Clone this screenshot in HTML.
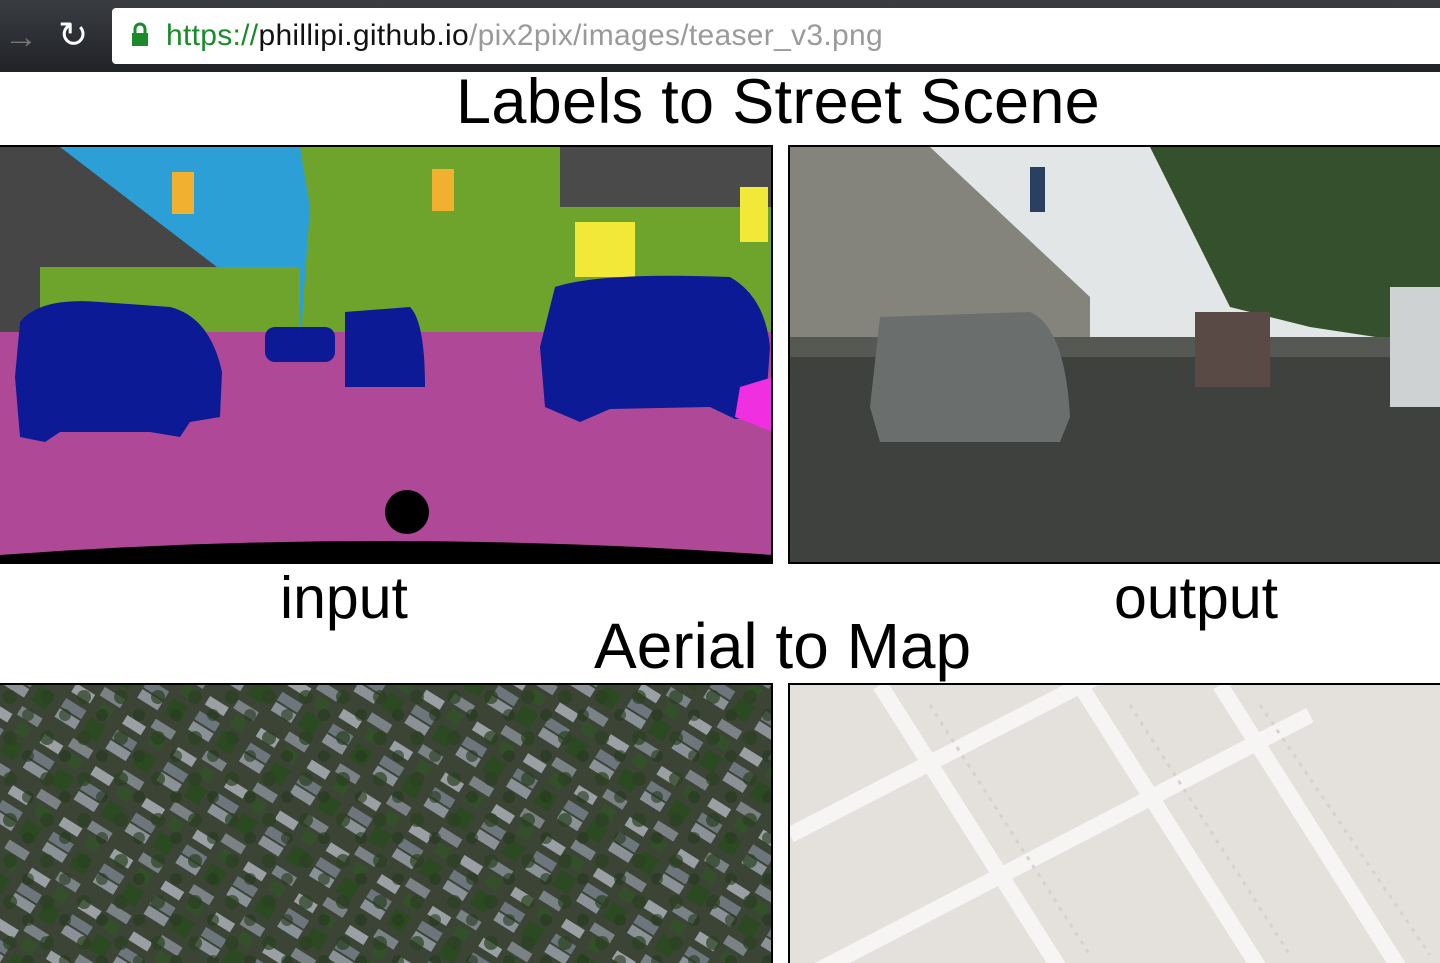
<!DOCTYPE html>
<html><head><meta charset="utf-8"><style>
html,body{margin:0;padding:0;width:1440px;height:963px;overflow:hidden;background:#fff;font-family:"Liberation Sans",sans-serif;position:relative}
.bar{position:absolute;left:0;top:0;width:1440px;height:72px;background:linear-gradient(#3a3d42,#202226)}
.url{position:absolute;left:112px;top:8px;width:1340px;height:56px;background:#fff;border-radius:4px}
.url span{position:absolute;left:54px;top:11px;font-size:30px;color:#9a9a9a;white-space:nowrap;letter-spacing:0.3px}
.t{position:absolute;white-space:nowrap;color:#000}
.img{position:absolute;overflow:hidden}
</style></head><body>
<div class="bar">
<div style="position:absolute;left:4px;top:18px;font-size:34px;color:#777">&#8594;</div>
<div style="position:absolute;left:58px;top:14px;font-size:36px;color:#fff">&#8635;</div>
<div class="url">
<svg style="position:absolute;left:18px;top:14px" width="20" height="26"><rect x="2" y="11" width="16" height="13" fill="#1a8a2a"/><path d="M5 11V7a5 5 0 0 1 10 0v4" stroke="#1a8a2a" stroke-width="3" fill="none"/></svg>
<span><span style="position:static;color:#1a8a2a">https://</span><span style="position:static;color:#111">phillipi.github.io</span>/pix2pix/images/teaser_v3.png</span>
</div>
</div>
<div class="t" style="left:456px;top:66px;font-size:63px;letter-spacing:0.3px">Labels to Street Scene</div>
<div class="img" style="left:0;top:145px;width:773px;height:419px;border:2px solid #000;border-left:0;box-sizing:border-box">
<svg width="773" height="419" viewBox="0 0 773 419">
<rect width="773" height="419" fill="#b04898"/>
<rect width="773" height="200" fill="#2c9fd6"/>
<polygon points="0,0 60,0 230,130 220,200 0,200" fill="#464646"/>
<polygon points="300,0 773,0 773,200 300,200 310,60" fill="#6ea32c"/>
<rect x="560" y="0" width="213" height="60" fill="#4a4a4a"/>
<rect x="40" y="120" width="260" height="70" fill="#6ea32c"/>
<rect x="575" y="75" width="60" height="55" fill="#f2e838"/>
<rect x="740" y="40" width="28" height="55" fill="#f2e838"/>
<rect x="172" y="25" width="22" height="42" fill="#f2b030"/>
<rect x="432" y="22" width="22" height="42" fill="#f2b030"/>
<rect x="0" y="185" width="773" height="20" fill="#b04898"/>
<path d="M20 175 Q40 150 100 155 L170 160 Q210 170 222 225 L220 270 L190 275 L180 290 L150 285 L60 285 L45 295 L20 290 L15 230 Z" fill="#0c1a96"/>
<rect x="265" y="180" width="70" height="35" rx="10" fill="#0c1a96"/>
<path d="M345 165 L410 160 Q425 175 425 240 L345 240 Z" fill="#0c1a96"/>
<path d="M555 140 Q600 125 730 130 Q765 150 770 200 L765 270 L735 272 L710 260 L610 262 L580 275 L545 260 L540 200 Z" fill="#0c1a96"/>
<path d="M740 240 L773 230 L773 285 L735 270 Z" fill="#f030e0"/>
<path d="M0 419 L0 408 Q380 380 773 408 L773 419 Z" fill="#000"/>
<circle cx="407" cy="365" r="22" fill="#000"/>
</svg></div>
<div class="img" style="left:788px;top:145px;width:652px;height:419px;border:2px solid #000;border-right:0;box-sizing:border-box">
<svg width="652" height="419" viewBox="0 0 652 419">
<rect width="652" height="419" fill="#e2e6e6"/>
<polygon points="0,0 140,0 300,150 300,200 0,230" fill="#84847c"/>
<polygon points="360,0 652,0 652,200 520,180 440,160" fill="#34502c"/>
<rect x="0" y="200" width="652" height="219" fill="#3e413e"/>
<rect x="0" y="190" width="652" height="20" fill="#565854"/>
<path d="M90 170 L240 165 Q275 180 280 270 L270 295 L90 295 L80 260 Z" fill="#6a6e6c"/>
<rect x="405" y="165" width="75" height="75" fill="#5a4a46"/>
<rect x="600" y="140" width="52" height="120" fill="#cfd2d2"/>
<rect x="240" y="20" width="15" height="45" fill="#2a4060"/>
</svg></div>
<div class="t" style="left:280px;top:564px;font-size:59px;">input</div>
<div class="t" style="left:1114px;top:564px;font-size:59px;">output</div>
<div class="t" style="left:594px;top:609px;font-size:64px;">Aerial to Map</div>
<div class="img" style="left:0;top:683px;width:773px;height:280px;border:2px solid #000;border-left:0;border-bottom:0;box-sizing:border-box">
<svg width="773" height="280">
<defs><pattern id="a" width="60" height="60" patternUnits="userSpaceOnUse" patternTransform="rotate(-58)">
<rect width="60" height="60" fill="#3c4436"/>
<rect x="2" y="3" width="10" height="24" fill="#8a9298"/>
<rect x="14" y="3" width="10" height="24" fill="#6d767c"/>
<rect x="3" y="34" width="18" height="18" fill="#2c4a22"/>
<rect x="32" y="4" width="10" height="22" fill="#9aa0a4"/>
<rect x="44" y="30" width="10" height="24" fill="#7a8286"/>
<rect x="28" y="36" width="12" height="14" fill="#33502a"/>
</pattern>
<pattern id="b" width="37" height="41" patternUnits="userSpaceOnUse">
<circle cx="10" cy="12" r="7" fill="#2a4020" opacity="0.7"/>
<circle cx="28" cy="30" r="6" fill="#24381c" opacity="0.6"/>
</pattern></defs>
<rect width="773" height="280" fill="url(#a)"/>
<rect width="773" height="280" fill="url(#b)"/>
</svg></div>
<div class="img" style="left:788px;top:683px;width:652px;height:280px;border:2px solid #000;border-right:0;border-bottom:0;box-sizing:border-box">
<svg width="652" height="280">
<rect width="652" height="280" fill="#e4e1dc"/>
<g stroke="#f6f5f3" stroke-width="16">
<line x1="0" y1="150" x2="330" y2="-20"/>
<line x1="0" y1="300" x2="520" y2="30"/>
<line x1="90" y1="0" x2="280" y2="300"/>
<line x1="290" y1="0" x2="480" y2="300"/>
<line x1="430" y1="0" x2="620" y2="300"/>
</g>
<g stroke="#d6d2cc" stroke-width="3" stroke-dasharray="4 6">
<line x1="140" y1="20" x2="300" y2="270"/>
<line x1="340" y1="20" x2="500" y2="270"/>
<line x1="470" y1="20" x2="640" y2="270"/>
</g>
</svg></div>
</body></html>
